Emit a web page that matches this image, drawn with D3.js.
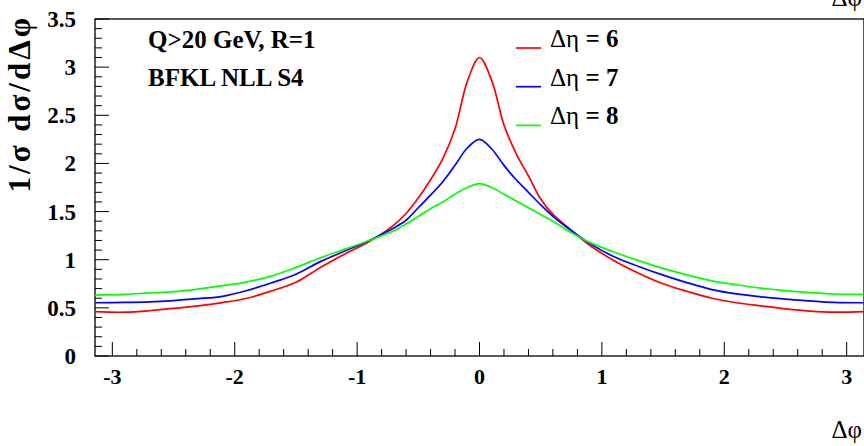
<!DOCTYPE html>
<html>
<head>
<meta charset="utf-8">
<script src="https://cdn.jsdelivr.net/npm/d3@7"></script>
<style>
  html, body { margin: 0; padding: 0; background: #fff; }
  svg { display: block; }
</style>
</head>
<body>
<svg id="chart" width="864" height="446" font-family="'Liberation Serif', 'Times New Roman', Times, serif"></svg>
<script>
// Δφ sample points
const dphi = [-3.14, -2.9, -2.7, -2.5, -2.3, -2.1, -1.9, -1.7, -1.5, -1.3, -1.1, -0.9, -0.7, -0.6, -0.5, -0.4, -0.3, -0.2, -0.1, 0,
              0.1, 0.2, 0.3, 0.4, 0.5, 0.6, 0.7, 0.9, 1.1, 1.3, 1.5, 1.7, 1.9, 2.1, 2.3, 2.5, 2.7, 2.9, 3.14];
// Δη = 6
const eta6 = [0.46, 0.455, 0.47, 0.495, 0.52, 0.555, 0.60, 0.675, 0.765, 0.92, 1.06, 1.19, 1.36, 1.48, 1.64, 1.83, 2.05, 2.36, 2.85, 3.10,
              2.86, 2.40, 2.10, 1.87, 1.63, 1.47, 1.36, 1.15, 0.99, 0.86, 0.75, 0.67, 0.60, 0.553, 0.52, 0.49, 0.467, 0.455, 0.46];
// Δη = 7
const eta7 = [0.553, 0.556, 0.562, 0.575, 0.595, 0.62, 0.68, 0.76, 0.85, 0.98, 1.09, 1.20, 1.33, 1.41, 1.54, 1.67, 1.81, 1.98, 2.16, 2.25,
              2.15, 1.98, 1.83, 1.70, 1.57, 1.45, 1.35, 1.17, 1.03, 0.93, 0.84, 0.76, 0.69, 0.645, 0.615, 0.59, 0.572, 0.556, 0.553];
// Δη = 8
const eta8 = [0.633, 0.64, 0.655, 0.668, 0.695, 0.73, 0.77, 0.83, 0.92, 1.02, 1.11, 1.20, 1.30, 1.37, 1.45, 1.53, 1.60, 1.68, 1.75, 1.79,
              1.75, 1.68, 1.61, 1.54, 1.47, 1.40, 1.32, 1.18, 1.08, 0.99, 0.91, 0.84, 0.78, 0.74, 0.705, 0.678, 0.658, 0.644, 0.64];

const seriesNames = ["6", "7", "8"];
const seriesValues = [eta6, eta7, eta8];
const seriesColors = ["#ff0000", "#0000ff", "#00ff00"];

const xMajorTicks = [-3, -2, -1, 0, 1, 2, 3];
const yMajorTicks = [0, 0.5, 1, 1.5, 2, 2.5, 3, 3.5];
const yTickLabels = ["0", "0.5", "1", "1.5", "2", "2.5", "3", "3.5"];

const svg = d3.select("#chart");
const x = d3.scaleLinear().domain([-Math.PI, Math.PI]).range([95, 864]);
const y = d3.scaleLinear().domain([0, 3.5]).range([356, 19]);

// minor ticks
const xMinor = d3.range(-3.2, 3.21, 0.2).map(v => +v.toFixed(2)).filter(v => v > -Math.PI && v < Math.PI && Math.abs(v - Math.round(v)) > 1e-6);
const yMinor = d3.range(0, 3.51, 0.1).map(v => +v.toFixed(2)).filter(v => Math.abs(v * 2 - Math.round(v * 2)) > 1e-6);

const g = svg.append("g");

// frame
g.append("rect")
  .attr("x", x(-Math.PI)).attr("y", y(3.5))
  .attr("width", x(Math.PI) - x(-Math.PI)).attr("height", y(0) - y(3.5))
  .attr("fill", "none").attr("stroke", "#000").attr("stroke-width", 1.3);

// x ticks
g.selectAll(".xmaj").data(xMajorTicks).enter().append("line")
  .attr("x1", d => x(d)).attr("x2", d => x(d))
  .attr("y1", y(0)).attr("y2", y(0) - 14)
  .attr("stroke", "#000").attr("stroke-width", 1);
g.selectAll(".xmin").data(xMinor).enter().append("line")
  .attr("x1", d => x(d)).attr("x2", d => x(d))
  .attr("y1", y(0)).attr("y2", y(0) - 7)
  .attr("stroke", "#000").attr("stroke-width", 1);
// y ticks
g.selectAll(".ymaj").data(yMajorTicks).enter().append("line")
  .attr("x1", x(-Math.PI)).attr("x2", x(-Math.PI) + 14)
  .attr("y1", d => y(d)).attr("y2", d => y(d))
  .attr("stroke", "#000").attr("stroke-width", 1);
g.selectAll(".ymin").data(yMinor).enter().append("line")
  .attr("x1", x(-Math.PI)).attr("x2", x(-Math.PI) + 7)
  .attr("y1", d => y(d)).attr("y2", d => y(d))
  .attr("stroke", "#000").attr("stroke-width", 1);

// tick labels
g.selectAll(".xlab").data(xMajorTicks).enter().append("text")
  .attr("x", d => x(d)).attr("y", 384)
  .attr("text-anchor", "middle")
  .attr("font-weight", "bold").attr("font-size", 22)
  .text(d => d);
g.selectAll(".ylab").data(yMajorTicks).enter().append("text")
  .attr("x", 76).attr("y", d => y(d) + 8)
  .attr("text-anchor", "end")
  .attr("font-weight", "bold").attr("font-size", 23)
  .text((d, i) => yTickLabels[i]);

// axis titles
svg.append("text")
  .attr("transform", "translate(30,15) rotate(-90)")
  .attr("text-anchor", "end")
  .attr("font-weight", "bold").attr("font-size", 31)
  .attr("letter-spacing", 3)
  .text("1/σ dσ/dΔφ");
svg.append("text")
  .attr("x", 862).attr("y", 438).attr("text-anchor", "end")
  .attr("font-size", 25).text("Δφ");
svg.append("text")
  .attr("x", 862).attr("y", 6).attr("text-anchor", "end")
  .attr("font-size", 25).text("Δφ");

// curves
const line = d3.line()
  .x((d, i) => x(dphi[i]))
  .y(d => y(d))
  .curve(d3.curveCatmullRom.alpha(0.5));
seriesValues.forEach((vals, k) => {
  g.append("path")
    .datum(vals)
    .attr("d", line)
    .attr("fill", "none")
    .attr("stroke", seriesColors[k])
    .attr("stroke-width", 1.7);
});

// annotation text
svg.append("text").attr("x", 148).attr("y", 48)
  .attr("font-weight", "bold").attr("font-size", 25).text("Q>20 GeV, R=1");
svg.append("text").attr("x", 148).attr("y", 86)
  .attr("font-weight", "bold").attr("font-size", 25).text("BFKL NLL S4");

// legend
const leg = svg.append("g");
seriesNames.forEach((n, k) => {
  const ly = 48 + k * 38.7;
  leg.append("line")
    .attr("x1", 516).attr("x2", 541).attr("y1", ly).attr("y2", ly)
    .attr("stroke", seriesColors[k]).attr("stroke-width", 1.7);
  const t = leg.append("text").attr("x", 550).attr("y", ly - 1).attr("font-size", 25);
  t.append("tspan").text("Δη");
  t.append("tspan").attr("font-weight", "bold").text(" = " + n);
});
</script>
</body>
</html>
